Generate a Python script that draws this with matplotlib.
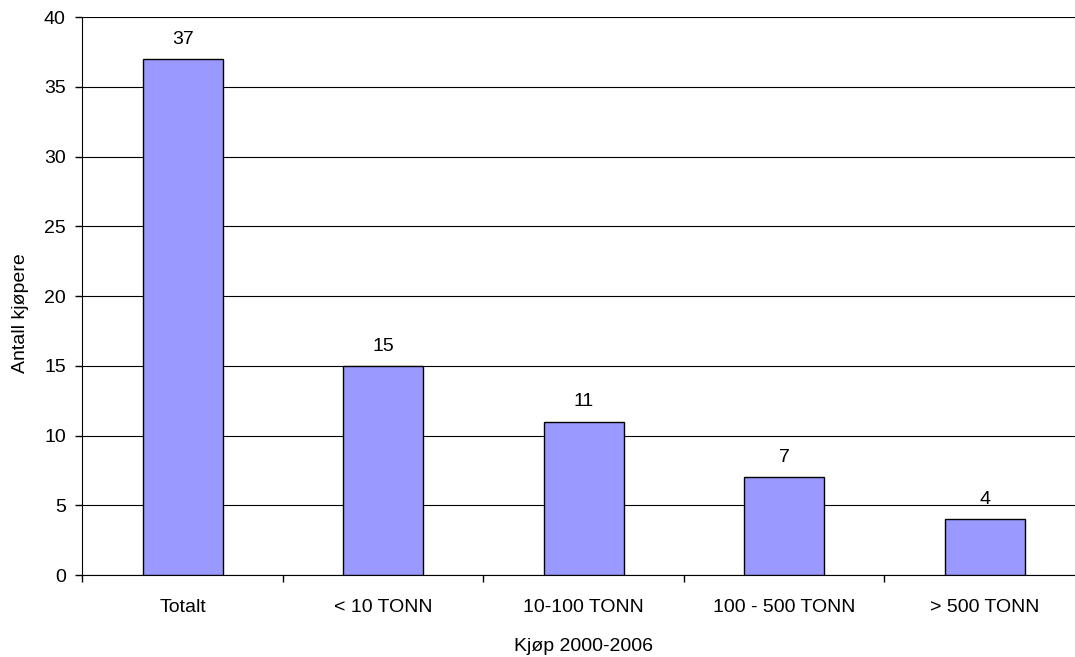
import matplotlib
matplotlib.use("Agg")
import matplotlib.pyplot as plt
import numpy as np

categories = ["Totalt", "< 10 TONN", "10-100 TONN", "100 - 500 TONN", "> 500 TONN"]
values = [37, 15, 11, 7, 4]

plt.rcParams["font.family"] = ["Liberation Sans", "DejaVu Sans"]
FS = 14

fig = plt.figure(figsize=(10.75, 6.57), dpi=100)
# the plot area runs a little past the right edge of the picture, as in the original
ax = fig.add_axes([0.0767, 0.1248, 0.9326, 0.8492])

x = np.arange(len(categories))
ax.bar(x, values, width=0.4, color="#9999FF", edgecolor="black", linewidth=1, zorder=3)
for xi, v in zip(x, values):
    ax.text(xi, v + 0.8, str(v), ha="center", va="bottom", fontsize=FS)

ax.set_xlim(-0.5, len(categories) - 0.5)
ax.set_ylim(0, 40)
ax.set_yticks(range(0, 41, 5))
ax.set_xticks(x)
ax.set_xticklabels(categories, fontsize=FS)
ax.set_xticks(np.arange(-0.5, len(categories)), minor=True)
ax.tick_params(axis="x", which="major", length=0, pad=17)
ax.tick_params(axis="x", which="minor", length=5, width=1, color="black")
ax.tick_params(axis="y", length=5, width=1, pad=7, labelsize=FS)

ax.yaxis.grid(True, color="black", linewidth=0.8, zorder=0)
ax.set_axisbelow(True)
for s in ["top", "right"]:
    ax.spines[s].set_visible(False)

ax.set_xlabel("Kjøp 2000-2006", fontsize=FS, labelpad=16)
ax.set_ylabel("Antall kjøpere", fontsize=FS)
ax.yaxis.set_label_coords(-0.053, 0.47)

fig.savefig("out.png", dpi=100)
